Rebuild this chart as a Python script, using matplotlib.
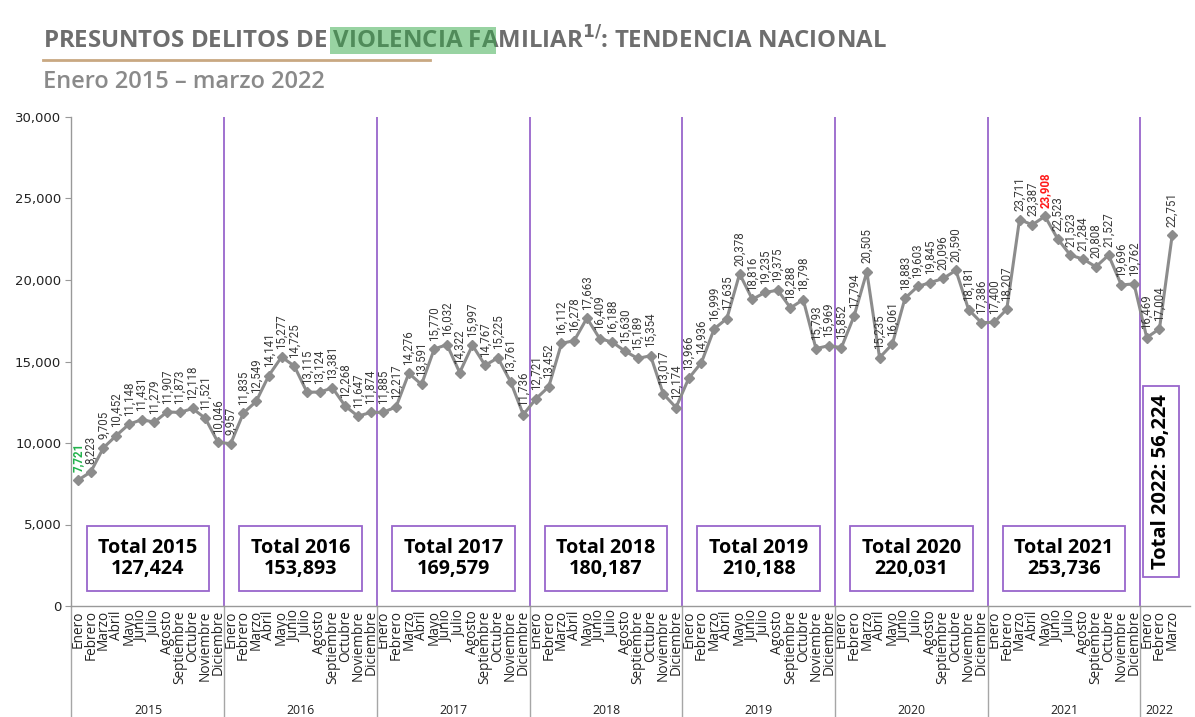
import matplotlib
matplotlib.use("Agg")
import matplotlib.pyplot as plt
import matplotlib.transforms as mtransforms
from matplotlib.patches import Rectangle

years = ["2015", "2016", "2017", "2018", "2019", "2020", "2021", "2022"]
months = ["Enero", "Febrero", "Marzo", "Abril", "Mayo", "Junio", "Julio",
          "Agosto", "Septiembre", "Octubre", "Noviembre", "Diciembre"]

v2015 = [7721, 8223, 9705, 10452, 11148, 11431, 11279, 11907, 11873, 12118, 11521, 10046]
v2016 = [9957, 11835, 12549, 14141, 15277, 14725, 13115, 13124, 13381, 12268, 11647, 11874]
v2017 = [11885, 12217, 14276, 13591, 15770, 16032, 14322, 15997, 14767, 15225, 13761, 11736]
v2018 = [12721, 13452, 16112, 16278, 17663, 16409, 16188, 15630, 15189, 15354, 13017, 12174]
v2019 = [13966, 14936, 16999, 17635, 20378, 18816, 19235, 19375, 18288, 18798, 15793, 15969]
v2020 = [15852, 17794, 20505, 15235, 16061, 18883, 19603, 19845, 20096, 20590, 18181, 17386]
v2021 = [17400, 18207, 23711, 23387, 23908, 22523, 21523, 21284, 20808, 21527, 19696, 19762]
v2022 = [16469, 17004, 22751]

totals = ["127,424", "153,893", "169,579", "180,187", "210,188", "220,031", "253,736"]
total_2022 = "56,224"

series = [v2015, v2016, v2017, v2018, v2019, v2020, v2021, v2022]
values = [v for s in series for v in s]
labels = [months[i] for s in series for i in range(len(s))]
x = list(range(len(values)))

fig = plt.figure(figsize=(11.95, 7.17), dpi=100)
ax = fig.add_axes([71/1195, 111/717, (1190-71)/1195, (606-117)/717])

ax.plot(x, values, color="#8c8c8c", lw=2.2, marker="D", ms=5.5,
        markerfacecolor="#8c8c8c", markeredgecolor="#8c8c8c", zorder=3)

imax = values.index(max(values))
for i, v in enumerate(values):
    txt = f"{v:,}"
    color, weight = "#3a3a3a", "normal"
    if i == 0:
        color, weight = "#22b24c", "bold"
    elif i == imax:
        color, weight = "#ff1a1a", "bold"
    ax.annotate(txt, (i, v), xytext=(0, 6), textcoords="offset points",
                rotation=90, ha="center", va="bottom", fontsize=8.3,
                color=color, fontweight=weight, family="Roboto")

ax.set_ylim(0, 30000)
ax.set_xlim(-0.55, 87.4)
ax.set_yticks(range(0, 30001, 5000))
ax.set_yticklabels([f"{t:,}" for t in range(0, 30001, 5000)], fontsize=9.5,
                   color="#222222")
ax.tick_params(axis="y", length=4, color="#999999", pad=3)

ax.set_xticks(x)
ax.set_xticklabels(labels, rotation=90, fontsize=9.8, color="#222222",
                   family="Open Sans")
ax.tick_params(axis="x", length=0, pad=3)

for sp in ["top", "right"]:
    ax.spines[sp].set_visible(False)
ax.spines["left"].set_color("#999999")
ax.spines["bottom"].set_color("#999999")
ax.spines["left"].set_linewidth(1)
ax.spines["bottom"].set_linewidth(1)

trans = mtransforms.blended_transform_factory(ax.transData, ax.transAxes)
bottom_ext = -111/489
starts = [0]
for s in series[:-1]:
    starts.append(starts[-1] + len(s))
for k in range(1, len(series)):
    b = starts[k] - 0.5
    ax.axvline(b, color="#9966cc", lw=1.3, zorder=1)
    ax.plot([b, b], [0, bottom_ext], transform=trans, color="#a6a6a6",
            lw=1, clip_on=False)
ax.plot([-0.55, -0.55], [0, bottom_ext], transform=trans, color="#a6a6a6",
        lw=1, clip_on=False)

ends = starts[1:] + [87.9]
for k, yr in enumerate(years):
    c = (starts[k] - 0.5 + ends[k] - 0.5) / 2
    if k == len(years) - 1:
        c = starts[k] + 1
    ax.text(c, -(710-606)/489, yr, transform=trans, ha="center", va="center",
            fontsize=8.8, color="#222222", family="Open Sans")

for k in range(7):
    c = starts[k] + 5.5
    ax.text(c, 2900, f"Total {years[k]}\n{totals[k]}", ha="center", va="center",
            fontsize=14.2, fontweight="bold", color="black", family="Open Sans",
            linespacing=1.1, zorder=5,
            bbox=dict(boxstyle="square,pad=0.6", fc="white", ec="#9966cc", lw=1.3))
ax.text(starts[7] + 1.1, 7650, f"Total 2022: {total_2022}", rotation=90,
        ha="center", va="center", fontsize=14.5, fontweight="bold", color="black",
        family="Open Sans", zorder=5,
        bbox=dict(boxstyle="square,pad=0.4", fc="white", ec="#9966cc", lw=1.3))

# Title
title_kw = dict(fontsize=17.3, fontweight="bold", color="#6e6e6e", family="Open Sans",
                va="center", ha="left")
tx, ty = 43/1195, 1 - 41/717
full = r"PRESUNTOS DELITOS DE VIOLENCIA FAMILIAR$^{\mathbf{1/}}$: TENDENCIA NACIONAL"
t = fig.text(tx, ty, full, **title_kw)
fig.canvas.draw()
r = fig.canvas.get_renderer()
p1 = fig.text(tx, ty, "PRESUNTOS DELITOS DE ", **title_kw)
p2 = fig.text(tx, ty, "PRESUNTOS DELITOS DE VIOLENCIA FA", **title_kw)
e1 = p1.get_window_extent(r)
e2 = p2.get_window_extent(r)
p1.remove(); p2.remove()
x0 = e1.x1 / fig.bbox.width
x1 = e2.x1 / fig.bbox.width
fig.patches.append(Rectangle((x0 - 0.002, 1 - 54/717), x1 - x0 + 0.002, 27/717,
                             transform=fig.transFigure, fc=(0.2, 0.66, 0.28),
                             alpha=0.5, ec="none", zorder=10))
fig.add_artist(plt.Line2D([43/1195, 430/1195], [1 - 60/717, 1 - 60/717],
                          transform=fig.transFigure, color="#c9a882", lw=2))
fig.text(tx, 1 - 82/717, "Enero 2015 – marzo 2022", fontsize=17, color="#8a8a8a",
         family="Open Sans", fontweight="semibold", va="center", ha="left")

fig.savefig("out.png", dpi=100, facecolor="white")
